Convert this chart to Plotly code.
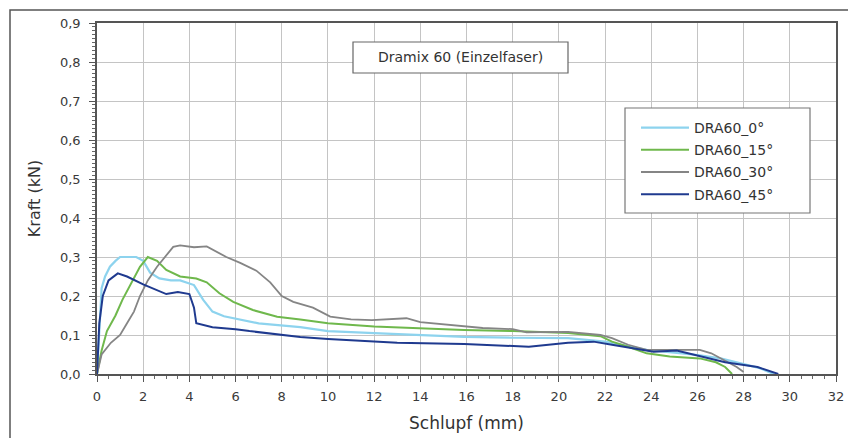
import plotly.graph_objects as go

# ---- data ----
names = ["DRA60_0°", "DRA60_15°", "DRA60_30°", "DRA60_45°"]

x_0 = [0, 0.1, 0.2, 0.35, 0.56, 0.8, 1.0, 1.3, 1.7, 2.0, 2.3, 2.7, 3.2, 3.6, 4.2, 4.6, 5.0, 5.5, 5.9,
       7.0, 8.8, 10, 12, 14, 15.9, 18, 20.4, 22, 23, 23.8, 25, 26.1, 27, 27.7, 28.7, 29.3]
y_0 = [0, 0.12, 0.22, 0.25, 0.275, 0.29, 0.3, 0.3, 0.3, 0.29, 0.26, 0.245, 0.24, 0.24, 0.228, 0.19, 0.16,
       0.148, 0.143, 0.13, 0.12, 0.11, 0.105, 0.1, 0.095, 0.093, 0.092, 0.083, 0.072, 0.062, 0.055, 0.048,
       0.04, 0.03, 0.015, 0]

x_15 = [0, 0.2, 0.43, 0.8, 1.1, 1.5, 1.86, 2.2, 2.6, 3.0, 3.6, 4.3, 4.75, 5.3, 5.9, 6.75, 7.8, 8.8, 10,
        12, 14, 15.9, 18, 20.4, 21.8, 22.3, 23, 23.8, 24.8, 26.1, 26.8, 27.2, 27.5]
y_15 = [0, 0.06, 0.11, 0.15, 0.19, 0.235, 0.275, 0.3, 0.29, 0.267, 0.25, 0.245, 0.235, 0.207, 0.185,
        0.164, 0.147, 0.14, 0.13, 0.122, 0.117, 0.113, 0.11, 0.105, 0.097, 0.083, 0.07, 0.053, 0.045, 0.04,
        0.03, 0.018, 0]

x_30 = [0, 0.2, 0.6, 1.0, 1.3, 1.6, 1.86, 2.2, 2.6, 3.0, 3.3, 3.6, 4.2, 4.75, 5.1, 5.6, 6.2, 6.9, 7.5,
        8.0, 8.5, 9.35, 10.1, 11.0, 11.9, 13.4, 14.0, 15.9, 16.7, 18, 18.6, 20.4, 21.8, 22.3, 23.0, 23.8,
        25.1, 26.1, 26.6, 27.2, 27.7, 28.0]
y_30 = [0, 0.05, 0.08, 0.1, 0.13, 0.16, 0.2, 0.24, 0.275, 0.305, 0.326, 0.33, 0.325, 0.327, 0.315, 0.3,
        0.285, 0.265, 0.235, 0.2, 0.185, 0.17, 0.147, 0.14, 0.138, 0.143, 0.133, 0.123, 0.118, 0.115,
        0.107, 0.108, 0.1, 0.092, 0.075, 0.062, 0.062, 0.062, 0.053, 0.035, 0.018, 0.005]

x_45 = [0, 0.1, 0.25, 0.5, 0.9, 1.3, 2.0, 2.6, 3.0, 3.5, 4.0, 4.2, 4.3, 5.0, 6.0, 6.6, 8.0, 8.8, 10, 12,
        13, 15.9, 18.7, 20.4, 21.5, 22.3, 24.1, 25.1, 26.1, 27.2, 28.6, 29.5]
y_45 = [0, 0.13, 0.2, 0.24, 0.258, 0.25, 0.23, 0.215, 0.205, 0.21, 0.205, 0.17, 0.13, 0.12, 0.115, 0.11,
        0.1, 0.095, 0.09, 0.083, 0.08, 0.077, 0.07, 0.08, 0.083, 0.075, 0.057, 0.06, 0.045, 0.03, 0.018, 0]

series_x = [x_0, x_15, x_30, x_45]
series_y = [y_0, y_15, y_30, y_45]
colors = ["#8dd3ee", "#6fb84c", "#858585", "#1f3a8f"]
widths = [2.2, 2.0, 1.8, 2.0]

chart_title = "Dramix 60 (Einzelfaser)"
x_title = "Schlupf (mm)"
y_title = "Kraft (kN)"

FONT = "DejaVu Sans"

# the page body has an 8px margin, so the figure is made 8px smaller
OFF = 8
W, H = 856 - OFF, 438 - OFF

# plot-area geometry in window pixels (for placing boxes in paper coordinates)
PL, PR, PT, PB = 97, 836, 23, 374
PW, PH = PR - PL, PB - PT


def px(xpix):
    return (xpix - PL) / PW


def py(ypix):
    return (PB - ypix) / PH


fig = go.Figure()
for n, xs, ys, c, w in zip(names, series_x, series_y, colors, widths):
    fig.add_trace(go.Scatter(x=xs, y=ys, mode="lines", name=n, legendgroup=n,
                             line=dict(color=c, width=w)))

axis_common = dict(
    showline=True, linecolor="#555555", linewidth=1.5, mirror=True,
    showgrid=True, gridcolor="#c4c4c4", gridwidth=1,
    ticks="outside", ticklen=6, tickcolor="#555555",
    zeroline=False, automargin=False,
    tickfont=dict(family=FONT, size=13, color="#3a3a3a"),
)

fig.update_xaxes(range=[0, 32], dtick=2, tick0=0, ticklabelstandoff=4,
                 minor=dict(dtick=0.5, ticks="outside", ticklen=3, tickcolor="#666666", showgrid=False),
                 title=dict(text=x_title, font=dict(family=FONT, size=17, color="#333333"), standoff=14),
                 **axis_common)
fig.update_yaxes(range=[0, 0.9], dtick=0.1, tick0=0, tickformat=".1f", ticklabelstandoff=6,
                 minor=dict(dtick=0.01, ticks="outside", ticklen=3, tickcolor="#666666", showgrid=False),
                 title=dict(text=y_title, font=dict(family=FONT, size=16, color="#333333"), standoff=15),
                 **axis_common)

# title box
fig.add_shape(type="rect", xref="paper", yref="paper",
              x0=px(353), x1=px(568), y0=py(73), y1=py(42),
              line=dict(color="#666666", width=1.2), fillcolor="white", layer="above")
fig.add_annotation(text=chart_title, xref="paper", yref="paper",
                   x=px(460.5), y=py(57.5), xanchor="center", yanchor="middle",
                   showarrow=False, font=dict(family=FONT, size=14, color="#333333"))

# legend box
fig.add_shape(type="rect", xref="paper", yref="paper",
              x0=px(625), x1=px(810), y0=py(213), y1=py(108),
              line=dict(color="#777777", width=1.2), fillcolor="white", layer="above")

# outer frame
fig.add_shape(type="rect", xref="paper", yref="paper",
              x0=px(10), x1=px(870), y0=py(460), y1=py(10),
              line=dict(color="#555555", width=1.5), fillcolor="rgba(0,0,0,0)")

fig.update_layout(
    width=W, height=H,
    margin=dict(l=PL - OFF, r=856 - PR, t=PT - OFF, b=438 - PB, autoexpand=False),
    paper_bgcolor="white", plot_bgcolor="white",
    separators=",.",
    showlegend=True,
    legend=dict(x=px(636), y=py(112), xanchor="left", yanchor="top",
                bgcolor="rgba(0,0,0,0)", borderwidth=0,
                font=dict(family=FONT, size=14, color="#333333"),
                tracegroupgap=1, itemwidth=48),
)

fig.write_html("out.html")
